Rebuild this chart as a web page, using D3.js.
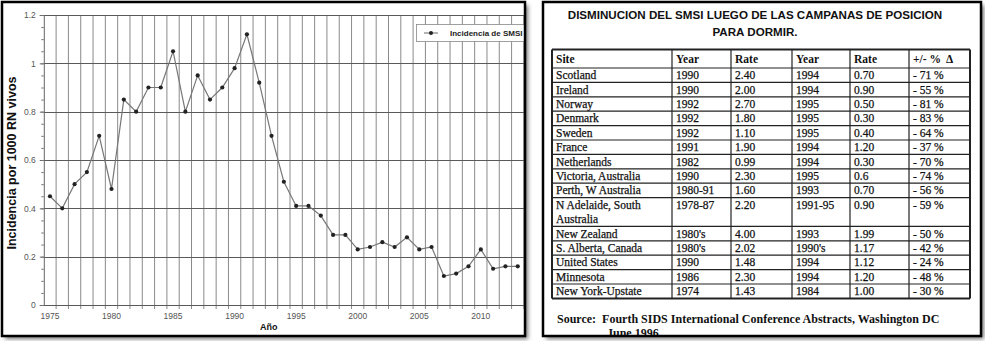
<!DOCTYPE html>
<html>
<head>
<meta charset="UTF-8">
<title>SMSI</title>
<script src="https://cdn.jsdelivr.net/npm/d3@7"></script>
<style>
  body { margin: 0; background: #fff; }
  svg { display: block; }
</style>
</head>
<body>
<script>
// datos de la curva
var years = d3.range(1975, 2014);
var incidencia = [0.45, 0.40, 0.50, 0.55, 0.70, 0.48, 0.85, 0.80, 0.90, 0.90,
                  1.05, 0.80, 0.95, 0.85, 0.90, 0.98, 1.12, 0.92, 0.70, 0.51,
                  0.41, 0.41, 0.37, 0.29, 0.29, 0.23, 0.24, 0.26, 0.24, 0.28,
                  0.23, 0.24, 0.12, 0.13, 0.16, 0.23, 0.15, 0.16, 0.16];
var yTicks = [0, 0.2, 0.4, 0.6, 0.8, 1, 1.2];
var xLabels = [1975, 1980, 1985, 1990, 1995, 2000, 2005, 2010];

// datos de la tabla
var headers = ["Site", "Year", "Rate", "Year", "Rate", "+/- %  \u0394"];
var sites = ["Scotland", "Ireland", "Norway", "Denmark", "Sweden", "France", "Netherlands",
             "Victoria, Australia", "Perth, W Australia", "N Adelaide, South|Australia",
             "New  Zealand", "S. Alberta, Canada", "United States", "Minnesota", "New York-Upstate"];
var year1 = ["1990", "1990", "1992", "1992", "1992", "1991", "1982", "1990", "1980-91", "1978-87",
             "1980's", "1980's", "1990", "1986", "1974"];
var rate1 = ["2.40", "2.00", "2.70", "1.80", "1.10", "1.90", "0.99", "2.30", "1.60", "2.20",
             "4.00", "2.02", "1.48", "2.30", "1.43"];
var year2 = ["1994", "1994", "1995", "1995", "1995", "1994", "1994", "1995", "1993", "1991-95",
             "1993", "1990's", "1994", "1994", "1984"];
var rate2 = ["0.70", "0.90", "0.50", "0.30", "0.40", "1.20", "0.30", "0.6", "0.70", "0.90",
             "1.99", "1.17", "1.12", "1.20", "1.00"];
var change = ["- 71 %", "- 55 %", "- 81 %", "- 83 %", "- 64 %", "- 37 %", "- 70 %", "- 74 %",
              "- 56 %", "- 59 %", "- 50 %", "- 42 %", "- 24 %", "- 48 %", "- 30 %"];

var svg = d3.select("body").append("svg")
    .attr("width", 985)
    .attr("height", 341);

var defs = svg.append("defs");
defs.append("filter").attr("id", "sombra")
    .attr("x", "-5%").attr("y", "-5%").attr("width", "115%").attr("height", "115%")
  .append("feGaussianBlur").attr("stdDeviation", 2);
defs.append("clipPath").attr("id", "clipDer")
  .append("rect").attr("x", 544).attr("y", 3).attr("width", 436).attr("height", 332);

// sombras de los marcos
svg.append("rect").attr("x", 5).attr("y", 5).attr("width", 523).attr("height", 334)
    .attr("fill", "#777").attr("filter", "url(#sombra)");
svg.append("rect").attr("x", 546).attr("y", 5).attr("width", 438).attr("height", 334)
    .attr("fill", "#777").attr("filter", "url(#sombra)");
svg.append("rect").attr("x", 2).attr("y", 2).attr("width", 523).attr("height", 334).attr("fill", "#fff");
svg.append("rect").attr("x", 543).attr("y", 2).attr("width", 438).attr("height", 334).attr("fill", "#fff");

// ---------- grafico de lineas ----------
var x = d3.scaleBand().domain(years).range([43.8, 523.9]).paddingInner(0).paddingOuter(0);
var y = d3.scaleLinear().domain([0, 1.2]).range([305, 15]);
var bw = x.bandwidth();

var chart = svg.append("g");

// lineas verticales (bordes de cada año)
chart.selectAll("line.vgrid")
    .data(years.slice(1).concat([2014]))
    .enter().append("line")
    .attr("class", "vgrid")
    .attr("x1", d => d === 2014 ? x(2013) + bw : x(d))
    .attr("x2", d => d === 2014 ? x(2013) + bw : x(d))
    .attr("y1", y(1.2))
    .attr("y2", y(0) + 4)
    .attr("stroke", "#8a8a8a")
    .attr("stroke-width", 1);

// lineas horizontales
chart.selectAll("line.hgrid")
    .data(yTicks)
    .enter().append("line")
    .attr("class", "hgrid")
    .attr("x1", x.range()[0])
    .attr("x2", x.range()[1])
    .attr("y1", d => Math.round(y(d)) + 0.5)
    .attr("y2", d => Math.round(y(d)) + 0.5)
    .attr("stroke", "#5a5a5a")
    .attr("stroke-width", 1);

// eje y
var yAxis = chart.append("g")
    .attr("transform", "translate(" + x.range()[0] + ",0)")
    .call(d3.axisLeft(y).tickValues(yTicks).tickFormat(d3.format("~g")).tickSize(4).tickPadding(4));
yAxis.select(".domain").attr("stroke", "#666");
yAxis.selectAll(".tick line").attr("stroke", "#666");
yAxis.selectAll("text").attr("fill", "#555").style("font", "8.5px 'Liberation Sans', Arial");

// marcas menores
chart.append("g")
    .attr("transform", "translate(" + x.range()[0] + ",0)")
    .call(d3.axisLeft(y).tickValues(d3.range(0, 1.2001, 0.05)).tickFormat("").tickSize(2.5))
    .call(g => g.select(".domain").remove())
    .selectAll("line").attr("stroke", "#777");

// eje x
var xAxis = chart.append("g")
    .attr("transform", "translate(0," + y(0) + ")")
    .call(d3.axisBottom(x).tickValues(xLabels).tickSize(0).tickPadding(8));
xAxis.select(".domain").remove();
xAxis.selectAll("text").attr("fill", "#555").style("font", "8.5px 'Liberation Sans', Arial");

// linea y puntos
var line = d3.line()
    .x((d, i) => x(years[i]) + bw / 2)
    .y(d => y(d));

chart.append("path")
    .datum(incidencia)
    .attr("d", line)
    .attr("fill", "none")
    .attr("stroke", "#777")
    .attr("stroke-width", 1.2);

chart.selectAll("circle.pt")
    .data(incidencia)
    .enter().append("circle")
    .attr("class", "pt")
    .attr("cx", (d, i) => x(years[i]) + bw / 2)
    .attr("cy", d => y(d))
    .attr("r", 2.1)
    .attr("fill", "#222");

// titulos de ejes
chart.append("text")
    .attr("transform", "translate(16,163) rotate(-90)")
    .attr("text-anchor", "middle")
    .style("font", "bold 12.5px 'Liberation Sans', Arial")
    .attr("fill", "#111")
    .text("Incidencia por 1000 RN vivos");

chart.append("text")
    .attr("x", 260).attr("y", 330)
    .style("font", "bold 9px 'Liberation Sans', Arial")
    .attr("fill", "#111")
    .text("Año");

// leyenda
var leg = chart.append("g");
leg.append("rect")
    .attr("x", 416.5).attr("y", 24.5).attr("width", 108).attr("height", 17)
    .attr("fill", "#fff").attr("stroke", "#888").attr("stroke-width", 0.8);
leg.append("line")
    .attr("x1", 424).attr("x2", 438).attr("y1", 33).attr("y2", 33)
    .attr("stroke", "#666");
leg.append("circle").attr("cx", 431).attr("cy", 33).attr("r", 2).attr("fill", "#222");
leg.append("text")
    .attr("x", 450).attr("y", 36)
    .style("font", "bold 8px 'Liberation Sans', Arial")
    .attr("fill", "#222")
    .text("Incidencia de SMSI");

// ---------- tabla ----------
var panel = svg.append("g").attr("clip-path", "url(#clipDer)");

panel.append("text")
    .attr("x", 755).attr("y", 19)
    .attr("text-anchor", "middle")
    .style("font", "bold 11.6px 'Liberation Sans', Arial")
    .attr("fill", "#111")
    .text("DISMINUCION DEL SMSI LUEGO DE LAS CAMPANAS DE POSICION");
panel.append("text")
    .attr("x", 755).attr("y", 36)
    .attr("text-anchor", "middle")
    .style("font", "bold 11.6px 'Liberation Sans', Arial")
    .attr("fill", "#111")
    .text("PARA DORMIR.");

var colX = [552, 672, 731, 792, 850, 909, 970];
var headTop = 49.5, headBot = 68, rowH = 14.4;
var rowSpan = sites.map(s => s.indexOf("|") >= 0 ? 2 : 1);
var rowTop = [];
var acc = headBot;
rowSpan.forEach(function(s) { rowTop.push(acc); acc += s * rowH; });
var tableBot = acc;

var cols = [sites, year1, rate1, year2, rate2, change];

// encabezado
panel.selectAll("text.head")
    .data(headers)
    .enter().append("text")
    .attr("class", "head")
    .attr("x", (d, i) => colX[i] + 4)
    .attr("y", (headTop + headBot) / 2 + 4)
    .style("font", "bold 11.5px 'Liberation Serif', 'Times New Roman', serif")
    .attr("fill", "#111")
    .attr("xml:space", "preserve")
    .text(d => d);

// celdas
cols.forEach(function(col, ci) {
  panel.selectAll("text.c" + ci)
      .data(col)
      .enter().append("text")
      .attr("class", "c" + ci)
      .attr("x", colX[ci] + 4)
      .attr("y", (d, i) => rowTop[i] + rowH / 2 + 4)
      .style("font", "11.5px 'Liberation Serif', 'Times New Roman', serif")
      .attr("fill", "#111")
      .attr("stroke", "#111")
      .attr("stroke-width", 0.25)
      .each(function(d) {
        var parts = d.split("|");
        var t = d3.select(this);
        parts.forEach(function(p, k) {
          t.append("tspan").attr("x", colX[ci] + 4).attr("dy", k === 0 ? 0 : rowH).text(p);
        });
      });
});

// lineas de la tabla
var hLines = [headTop, headBot].concat(rowTop.slice(1)).concat([tableBot]);
panel.selectAll("line.th")
    .data(hLines)
    .enter().append("line")
    .attr("class", "th")
    .attr("x1", colX[0]).attr("x2", colX[6])
    .attr("y1", d => d).attr("y2", d => d)
    .attr("stroke", "#222")
    .attr("stroke-width", (d, i) => (i === 0 || i === hLines.length - 1) ? 2 : 1.2);
panel.selectAll("line.tv")
    .data(colX)
    .enter().append("line")
    .attr("class", "tv")
    .attr("x1", d => d).attr("x2", d => d)
    .attr("y1", headTop).attr("y2", tableBot)
    .attr("stroke", "#222")
    .attr("stroke-width", (d, i) => (i === 0 || i === 6) ? 2 : 1.2);

// fuente
panel.append("text")
    .attr("x", 557).attr("y", 323)
    .style("font", "bold 12px 'Liberation Serif', 'Times New Roman', serif")
    .attr("fill", "#111")
    .attr("xml:space", "preserve")
    .text("Source:  Fourth SIDS International Conference Abstracts, Washington DC");
panel.append("text")
    .attr("x", 607).attr("y", 337)
    .style("font", "bold 12px 'Liberation Serif', 'Times New Roman', serif")
    .attr("fill", "#111")
    .text("June 1996");

// marcos
svg.append("rect").attr("x", 2).attr("y", 2).attr("width", 523).attr("height", 334)
    .attr("fill", "none").attr("stroke", "#000").attr("stroke-width", 2.5);
svg.append("rect").attr("x", 543).attr("y", 2).attr("width", 438).attr("height", 334)
    .attr("fill", "none").attr("stroke", "#000").attr("stroke-width", 2.5);
</script>
</body>
</html>
